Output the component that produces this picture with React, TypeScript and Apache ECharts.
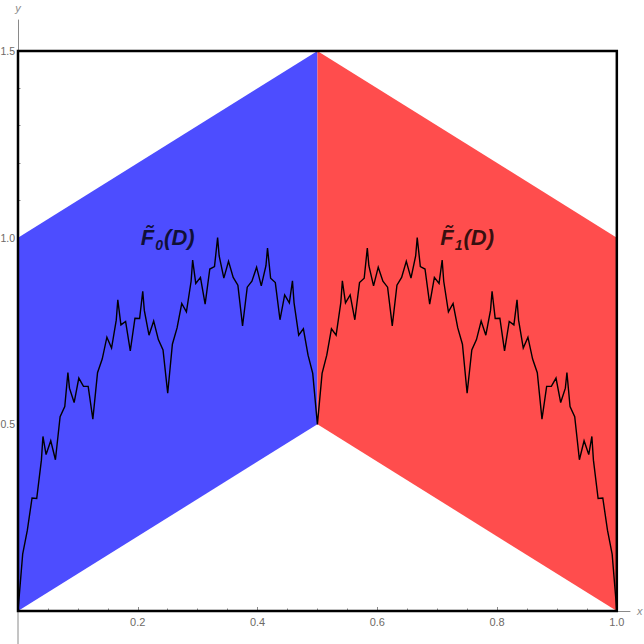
import React, { useEffect, useRef } from "react";
import * as echarts from "echarts";

// Tick values
const xMajorTicks = [0.2, 0.4, 0.6, 0.8, 1.0];
const xMinorTicks = [0.05, 0.1, 0.15, 0.25, 0.3, 0.35, 0.45, 0.5, 0.55, 0.65, 0.7, 0.75, 0.85, 0.9, 0.95];
const yMajorTicks = [0.5, 1.0, 1.5];
const yMinorTicks = [0.1, 0.2, 0.3, 0.4, 0.6, 0.7, 0.8, 0.9, 1.1, 1.2, 1.3, 1.4];

// Regions F0(D) (blue) and F1(D) (red)
const blueX = [0, 0.5, 0.5, 0];
const blueY = [0, 0.5, 1.5, 1.0];
const redX = [0.5, 1, 1, 0.5];
const redY = [0.5, 0, 1.0, 1.5];

// Frame
const frameX = [0, 0, 1, 1, 0];
const frameY = [0, 1.5, 1.5, 0, 0];

// Axis line extensions past the origin
const xAxisExtX = [-0.022, 0];
const xAxisExtY = [0, 0];
const yAxisExtX = [0, 0];
const yAxisExtY = [0, -0.09];

// Region labels
const labelNames = ["0", "1"];
const labelX = [0.25, 0.75];
const labelY = [1.0, 1.0];

// Fractal curve samples
const curveX = [
  0, 0.007813, 0.015625, 0.023438, 0.03125, 0.039063, 0.041667, 0.046875, 0.054688, 0.0625,
  0.070313, 0.078125, 0.083333, 0.085938, 0.09375, 0.101563, 0.109375, 0.117188, 0.125, 0.132813,
  0.140625, 0.148438, 0.15625, 0.164063, 0.166667, 0.171875, 0.179688, 0.1875, 0.195313, 0.203125,
  0.208333, 0.210938, 0.21875, 0.226563, 0.234375, 0.242188, 0.25, 0.257813, 0.265625, 0.273438,
  0.28125, 0.289063, 0.291667, 0.296875, 0.304688, 0.3125, 0.320313, 0.328125, 0.333333, 0.335938,
  0.34375, 0.351563, 0.359375, 0.367188, 0.375, 0.382813, 0.390625, 0.398438, 0.40625, 0.414063,
  0.416667, 0.421875, 0.429688, 0.4375, 0.445313, 0.453125, 0.458333, 0.460938, 0.46875, 0.476563,
  0.484375, 0.492188, 0.5,
  0.507812, 0.515625, 0.523437, 0.53125, 0.539062, 0.541667, 0.546875, 0.554687, 0.5625, 0.570312,
  0.578125, 0.583333, 0.585937, 0.59375, 0.601562, 0.609375, 0.617187, 0.625, 0.632812, 0.640625,
  0.648437, 0.65625, 0.664062, 0.666667, 0.671875, 0.679687, 0.6875, 0.695312, 0.703125, 0.708333,
  0.710937, 0.71875, 0.726562, 0.734375, 0.742187, 0.75, 0.757812, 0.765625, 0.773437, 0.78125,
  0.789062, 0.791667, 0.796875, 0.804687, 0.8125, 0.820312, 0.828125, 0.833333, 0.835937, 0.84375,
  0.851562, 0.859375, 0.867187, 0.875, 0.882812, 0.890625, 0.898437, 0.90625, 0.914062, 0.916667,
  0.921875, 0.929687, 0.9375, 0.945312, 0.953125, 0.958333, 0.960937, 0.96875, 0.976562, 0.984375,
  0.992187, 1,
];
const curveY = [
  0, 0.1521, 0.2165, 0.3028, 0.3013, 0.4041, 0.4676, 0.419, 0.456, 0.4051,
  0.5202, 0.5475, 0.6389, 0.5968, 0.5583, 0.624, 0.6019, 0.6018, 0.5139, 0.6383,
  0.6748, 0.7334, 0.7041, 0.7791, 0.8333, 0.7663, 0.7754, 0.6968, 0.7841, 0.7836,
  0.8565, 0.8051, 0.7388, 0.7768, 0.7269, 0.699, 0.5833, 0.7146, 0.7582, 0.8236,
  0.8013, 0.8832, 0.9398, 0.8774, 0.8935, 0.8218, 0.916, 0.9225, 1.0, 0.951,
  0.8916, 0.9365, 0.8936, 0.8726, 0.7639, 0.8674, 0.8832, 0.9209, 0.8708, 0.9249,
  0.9722, 0.8913, 0.8796, 0.7801, 0.8466, 0.8253, 0.8843, 0.826, 0.7388, 0.7559,
  0.6853, 0.6365, 0.5,
  0.6365, 0.6853, 0.7559, 0.7388, 0.826, 0.8843, 0.8253, 0.8466, 0.7801, 0.8796,
  0.8913, 0.9722, 0.9249, 0.8708, 0.9209, 0.8832, 0.8674, 0.7639, 0.8726, 0.8936,
  0.9365, 0.8916, 0.951, 1.0, 0.9225, 0.916, 0.8218, 0.8935, 0.8774, 0.9398,
  0.8832, 0.8013, 0.8236, 0.7582, 0.7146, 0.5833, 0.699, 0.7269, 0.7768, 0.7388,
  0.8051, 0.8565, 0.7836, 0.7841, 0.6968, 0.7754, 0.7663, 0.8333, 0.7791, 0.7041,
  0.7334, 0.6748, 0.6383, 0.5139, 0.6018, 0.6019, 0.624, 0.5583, 0.5968, 0.6389,
  0.5475, 0.5202, 0.4051, 0.456, 0.419, 0.4676, 0.4041, 0.3013, 0.3028, 0.2165,
  0.1521, 0,
];

const X_MIN = 0;
const X_MAX = 1.022;
const Y_MIN = 0;
const Y_MAX = 1.583;

const FONT = "Liberation Sans";
const AXIS_GRAY = "#8a8a8a";
const LABEL_GRAY = "#6e6a66";

export default function App() {
  const ref = useRef<HTMLDivElement>(null);

  useEffect(() => {
    if (!ref.current) return;
    const chart = echarts.init(ref.current, null, { renderer: "svg" });

    const baseX = {
      type: "value",
      min: X_MIN,
      max: X_MAX,
      position: "bottom",
      splitLine: { show: false },
    };
    const baseY = {
      type: "value",
      min: Y_MIN,
      max: Y_MAX,
      position: "left",
      splitLine: { show: false },
    };

    const polygonSeries = (xs: number[], ys: number[], color: string) => ({
      type: "custom",
      data: [[xs[0], ys[0]]],
      z: 2,
      silent: true,
      clip: false,
      renderItem: (params: any, api: any) => {
        const pts = xs.map((x, i) => api.coord([x, ys[i]]));
        return {
          type: "polygon",
          shape: { points: pts },
          style: { fill: color, stroke: null },
        };
      },
    });

    const plainLine = (xs: number[], ys: number[], color: string, width: number, z: number) => ({
      type: "line",
      data: xs.map((x, i) => [x, ys[i]]),
      showSymbol: false,
      symbol: "none",
      z,
      silent: true,
      clip: false,
      lineStyle: { color, width, join: "miter", cap: "square" },
    });

    chart.setOption({
      animation: false,
      backgroundColor: "#ffffff",
      grid: {
        left: 18,
        top: 20,
        width: 612,
        height: 591,
        containLabel: false,
        outerBoundsMode: "none",
      },
      xAxis: [
        {
          ...baseX,
          axisLine: { show: true, onZero: false, lineStyle: { color: AXIS_GRAY, width: 1 } },
          axisTick: { show: true, inside: true, length: 4, customValues: xMajorTicks, lineStyle: { color: AXIS_GRAY } },
          axisLabel: {
            show: true,
            customValues: xMajorTicks,
            formatter: (v: number) => v.toFixed(1),
            color: LABEL_GRAY,
            fontSize: 11,
            fontFamily: FONT,
            margin: 5,
          },
          name: "x",
          nameLocation: "end",
          nameGap: 7,
          nameTextStyle: { color: AXIS_GRAY, fontStyle: "italic", fontSize: 11, fontFamily: FONT },
        },
        {
          ...baseX,
          axisLine: { show: false, onZero: false },
          axisTick: { show: true, inside: true, length: 2.5, customValues: xMinorTicks, lineStyle: { color: AXIS_GRAY } },
          axisLabel: { show: false },
        },
      ],
      yAxis: [
        {
          ...baseY,
          axisLine: { show: true, onZero: false, lineStyle: { color: AXIS_GRAY, width: 1 } },
          axisTick: { show: true, inside: true, length: 4, customValues: yMajorTicks, lineStyle: { color: AXIS_GRAY } },
          axisLabel: {
            show: true,
            customValues: yMajorTicks,
            formatter: (v: number) => v.toFixed(1),
            color: LABEL_GRAY,
            fontSize: 10.5,
            fontFamily: FONT,
            margin: 3,
          },
          name: "y",
          nameLocation: "end",
          nameGap: 7,
          nameTextStyle: { color: AXIS_GRAY, fontStyle: "italic", fontSize: 11, fontFamily: FONT },
        },
        {
          ...baseY,
          axisLine: { show: false, onZero: false },
          axisTick: { show: true, inside: true, length: 2.5, customValues: yMinorTicks, lineStyle: { color: AXIS_GRAY } },
          axisLabel: { show: false },
        },
      ],
      series: [
        polygonSeries(blueX, blueY, "#4d4dff"),
        polygonSeries(redX, redY, "#ff4d4d"),
        plainLine(xAxisExtX, xAxisExtY, AXIS_GRAY, 1, 3),
        plainLine(yAxisExtX, yAxisExtY, AXIS_GRAY, 1, 3),
        {
          type: "line",
          data: curveX.map((x, i) => [x, curveY[i]]),
          showSymbol: false,
          symbol: "none",
          z: 4,
          silent: true,
          lineStyle: { color: "#000000", width: 1.4, join: "miter" },
        },
        plainLine(frameX, frameY, "#000000", 2.5, 5),
        {
          type: "scatter",
          data: labelX.map((x, i) => [x, labelY[i], labelNames[i]]),
          symbolSize: 1,
          itemStyle: { color: "rgba(0,0,0,0)" },
          z: 6,
          silent: true,
          label: {
            show: true,
            position: "inside",
            formatter: (p: any) => `{f|F\u0303}{s|${p.value[2]}}{f|(D)}`,
            rich: {
              f: {
                fontFamily: FONT,
                fontWeight: "bold",
                fontStyle: "italic",
                fontSize: 22,
                color: "#000",
                lineHeight: 28,
              },
              s: {
                fontFamily: FONT,
                fontWeight: "bold",
                fontStyle: "italic",
                fontSize: 14,
                color: "#000",
                verticalAlign: "bottom",
                lineHeight: 14,
                padding: [0, 1, 0, 1],
              },
            },
          },
        },
      ],
    });

    return () => chart.dispose();
  }, []);

  return (
    <div
      ref={ref}
      style={{ position: "absolute", left: 0, top: 0, width: 644, height: 644 }}
    />
  );
}
